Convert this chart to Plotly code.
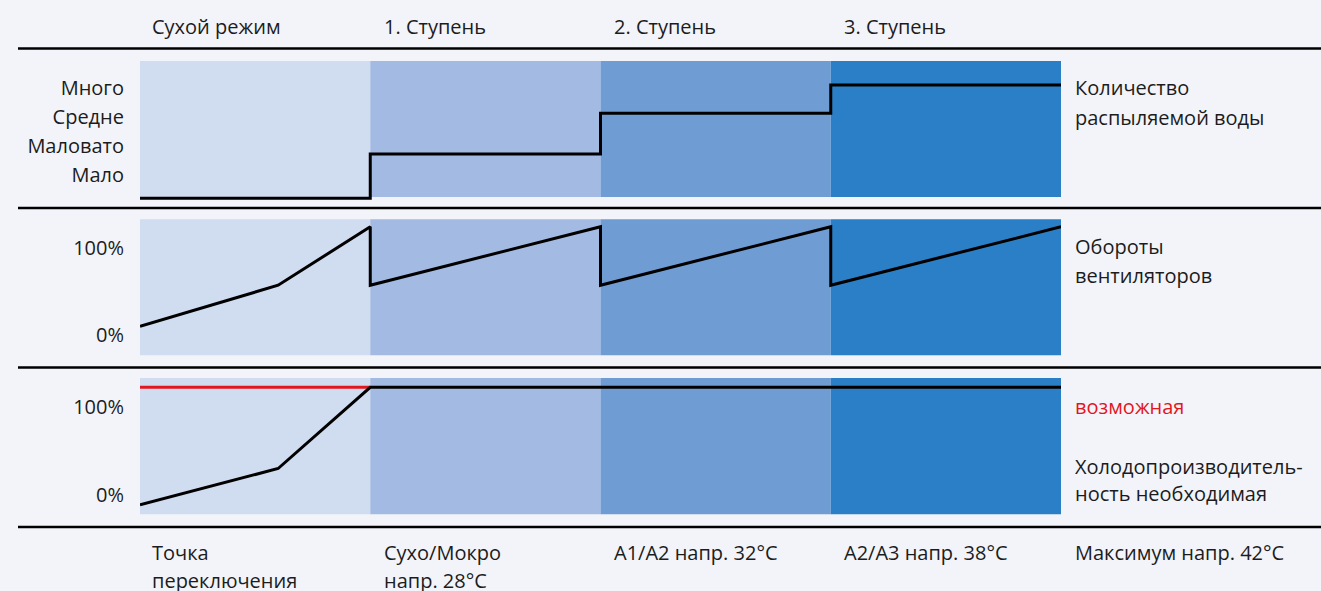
import plotly.graph_objects as go

# ---------------- data ----------------
stages = ["Сухой режим", "1. Ступень", "2. Ступень", "3. Ступень"]
stage_edges = [0, 1, 2, 3, 4]

water_levels = [0.2, 1.72, 3.13, 4.1]          # per stage
water_tickvals = [1, 2, 3, 4]
water_ticktext = ["Мало", "Маловато", "Средне", "Много"]

fan_x = [0, 0.6, 1, 1, 2, 2, 3, 3, 4]
fan_y = [10, 57, 124, 57, 124, 57, 124, 57, 124]   # %

cool_need_x = [0, 0.6, 1, 4]
cool_need_y = [-11, 30, 122, 122]                  # %
cool_poss_x = [0, 1]
cool_poss_y = [122, 122]                           # %

pct_tickvals = [0, 100]
pct_ticktext = ["0%", "100%"]

thresholds = ["Точка\nпереключения", "Сухо/Мокро\nнапр. 28°C",
              "A1/A2 напр. 32°C", "A2/A3 напр. 38°C", "Максимум напр. 42°C"]

label_water = "Количество\nраспыляемой воды"
label_fans = "Обороты\nвентиляторов"
label_possible = "возможная"
label_needed = "Холодопроизводитель-\nность необходимая"

# ---------------- style ----------------
W, H = 1321, 591
FONT = "Open Sans"
FS = 20
TXT = "#1c1c1c"
RED = "#e3161e"
stage_colors = ["#d0dcf0", "#a3bbe3", "#6f9cd3", "#2b7fc6"]
x_left_px, x_right_px = 140, 1061

def py(p):  # pixel y -> paper y
    return 1 - p / H

def px(p):  # pixel x -> paper x
    return p / W

fig = go.Figure()

# step line for water quantity
wx, wy = [], []
for i, lv in enumerate(water_levels):
    wx += [stage_edges[i], stage_edges[i + 1]]
    wy += [lv, lv]
fig.add_trace(go.Scatter(x=wx, y=wy, mode="lines", line=dict(color="black", width=3),
                         xaxis="x", yaxis="y", showlegend=False, hoverinfo="skip"))

fig.add_trace(go.Scatter(x=fan_x, y=fan_y, mode="lines", line=dict(color="black", width=3),
                         xaxis="x2", yaxis="y2", showlegend=False, hoverinfo="skip"))

fig.add_trace(go.Scatter(x=cool_poss_x, y=cool_poss_y, mode="lines",
                         line=dict(color=RED, width=3),
                         xaxis="x3", yaxis="y3", showlegend=False, hoverinfo="skip"))
fig.add_trace(go.Scatter(x=cool_need_x, y=cool_need_y, mode="lines",
                         line=dict(color="black", width=3),
                         xaxis="x3", yaxis="y3", showlegend=False, hoverinfo="skip"))

xdom = [px(x_left_px), px(x_right_px)]
xcommon = dict(domain=xdom, range=[0, 4], visible=False, fixedrange=True)

# panel domains / ranges (pixel-mapped)
p1_dom = [py(204), py(55)]
p1_rng = [0.0, 1 + 120 / 29]
p1_blk = [1 - 22 / 29, 1 + 114 / 29]

p2_dom = [py(362), py(212)]
p2_rng = [(335 - 362) / 0.873, (335 - 212) / 0.873]
p2_blk = [(335 - 355.3) / 0.873, (335 - 219.3) / 0.873]

p3_dom = [py(522), py(371)]
p3_rng = [(495 - 522) / 0.883, (495 - 371) / 0.883]
p3_blk = [(495 - 514.3) / 0.883, (495 - 378) / 0.883]

ycommon = dict(showgrid=False, zeroline=False, showline=False, ticks="",
               tickfont=dict(family=FONT, size=FS, color=TXT), ticklabelstandoff=15,
               fixedrange=True)

fig.update_layout(
    width=W, height=H, margin=dict(l=0, r=0, t=0, b=0),
    paper_bgcolor="#f2f4fa", plot_bgcolor="rgba(0,0,0,0)",
    xaxis=dict(**xcommon, anchor="y"),
    xaxis2=dict(**xcommon, anchor="y2"),
    xaxis3=dict(**xcommon, anchor="y3"),
    yaxis=dict(**ycommon, domain=p1_dom, range=p1_rng, anchor="x",
               tickvals=water_tickvals, ticktext=water_ticktext),
    yaxis2=dict(**ycommon, domain=p2_dom, range=p2_rng, anchor="x2",
                tickvals=pct_tickvals, ticktext=pct_ticktext),
    yaxis3=dict(**ycommon, domain=p3_dom, range=p3_rng, anchor="x3",
                tickvals=pct_tickvals, ticktext=pct_ticktext),
)

shapes = []
for (xr, yr, blk) in [("x", "y", p1_blk), ("x2", "y2", p2_blk), ("x3", "y3", p3_blk)]:
    for i, c in enumerate(stage_colors):
        shapes.append(dict(type="rect", xref=xr, yref=yr, x0=stage_edges[i], x1=stage_edges[i + 1],
                           y0=blk[0], y1=blk[1], fillcolor=c, line=dict(width=0), layer="below"))
for sy in [48.5, 208, 367.5, 527]:
    shapes.append(dict(type="line", xref="paper", yref="paper", x0=px(18), x1=1,
                       y0=py(sy), y1=py(sy), line=dict(color="black", width=2.5)))
fig.update_layout(shapes=shapes)

ann = []
def text(t, x, y, color=TXT, spacing=28.5):
    for k, line in enumerate(t.split("\n")):
        ann.append(dict(text=line, x=px(x), y=py(y + k * spacing), xref="paper", yref="paper",
                        showarrow=False, xanchor="left", yanchor="middle", align="left",
                        font=dict(family=FONT, size=FS, color=color)))

# stage headers
sx = [150, 382, 612, 842]
for s, x in zip(stages, sx):
    text(s, x, 26)

# thresholds along the bottom
tx = [150, 382, 612, 842, 1073]
for t, x in zip(thresholds, tx):
    text(t, x, 552)

# right-hand labels
text(label_water, 1073, 87, spacing=30)
text(label_fans, 1073, 246, spacing=29)
text(label_possible, 1073, 406, color=RED)
text(label_needed, 1073, 466, spacing=27)

fig.update_layout(annotations=ann)

fig.write_html("out.html", config={"displayModeBar": False},
               post_script="document.body.style.margin='0';document.body.style.overflow='hidden';")
